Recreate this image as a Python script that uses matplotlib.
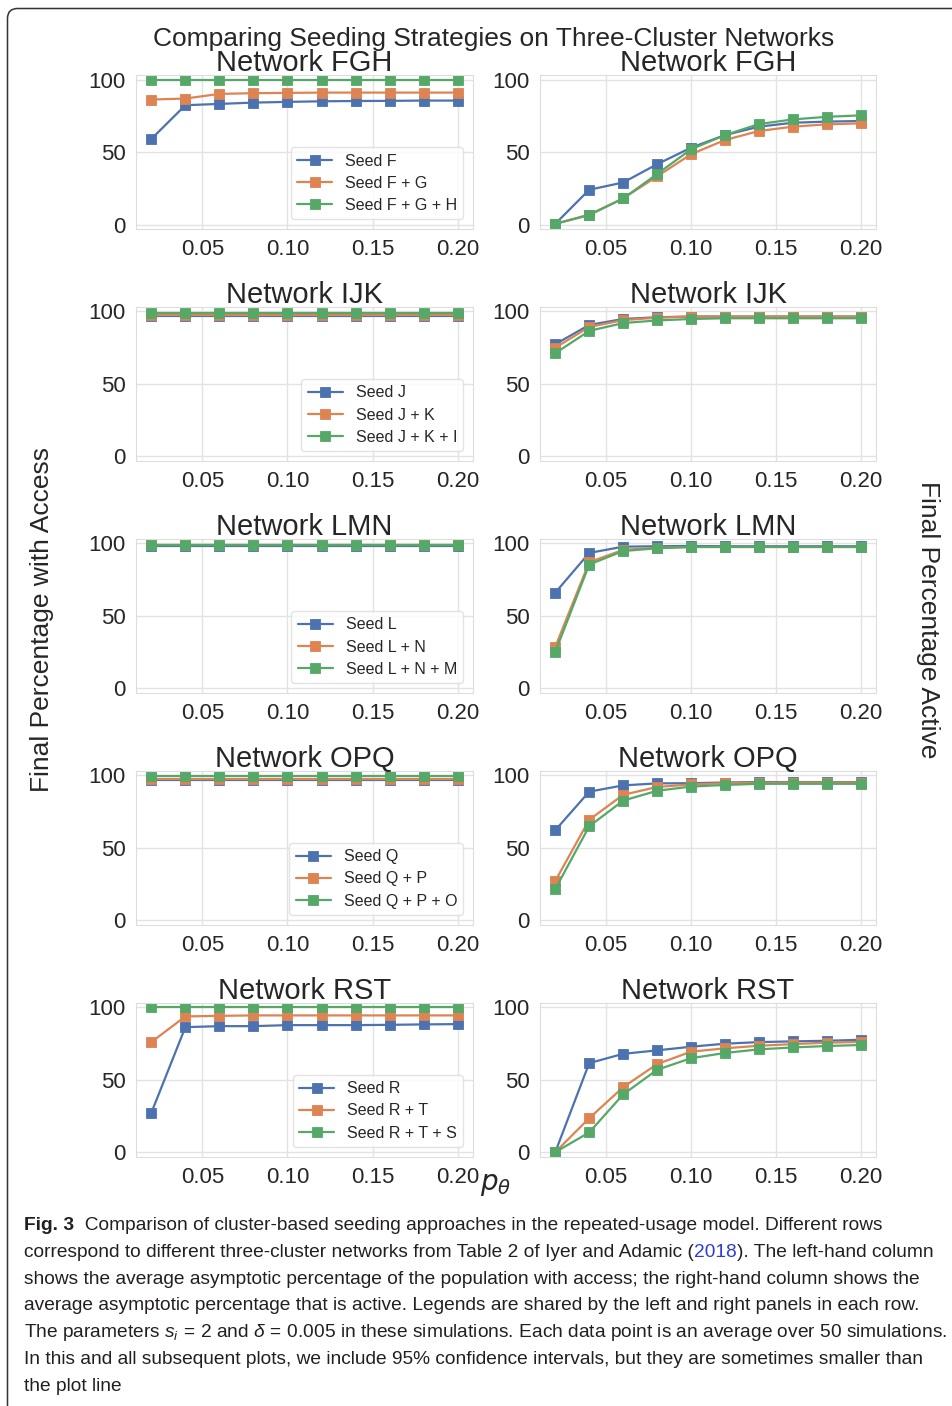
import matplotlib
matplotlib.use('Agg')
import matplotlib.pyplot as plt
import seaborn as sns
from matplotlib.patches import FancyBboxPatch
from matplotlib.transforms import IdentityTransform

sns.set_style('whitegrid')
plt.rcParams['font.family'] = ['Liberation Sans', 'DejaVu Sans']
plt.rcParams['mathtext.fontset'] = 'dejavusans'
# caption maths is set in the caption face
plt.rcParams['mathtext.rm'] = 'Liberation Sans'
plt.rcParams['mathtext.it'] = 'Liberation Sans:italic'
plt.rcParams['mathtext.bf'] = 'Liberation Sans:bold'

# seeding probability p0
p0 = [0.02, 0.04, 0.06, 0.08, 0.10, 0.12, 0.14, 0.16, 0.18, 0.20]

networks = ['FGH', 'IJK', 'LMN', 'OPQ', 'RST']
seed_labels = [
    ['Seed F', 'Seed F + G', 'Seed F + G + H'],
    ['Seed J', 'Seed J + K', 'Seed J + K + I'],
    ['Seed L', 'Seed L + N', 'Seed L + N + M'],
    ['Seed Q', 'Seed Q + P', 'Seed Q + P + O'],
    ['Seed R', 'Seed R + T', 'Seed R + T + S'],
]

# final percentage with access (one list per seeding strategy)
fgh_access = [
    [59.0, 82.3, 83.2, 84.1, 84.6, 85.0, 85.2, 85.3, 85.5, 85.5],
    [86.2, 86.9, 90.1, 90.6, 90.8, 91.0, 91.0, 91.0, 91.0, 91.0],
    [100, 100, 100, 100, 100, 100, 100, 100, 100, 100],
]
ijk_access = [
    [97.0, 97.0, 97.0, 97.0, 97.0, 97.0, 97.0, 97.0, 97.0, 97.0],
    [97.5, 97.5, 97.5, 97.5, 97.5, 97.5, 97.5, 97.5, 97.5, 97.5],
    [99.0, 99.0, 99.0, 99.0, 99.0, 99.0, 99.0, 99.0, 99.0, 99.0],
]
lmn_access = [
    [98.5, 98.5, 98.5, 98.5, 98.5, 98.5, 98.5, 98.5, 98.5, 98.5],
    [99.0, 99.0, 99.0, 99.0, 99.0, 99.0, 99.0, 99.0, 99.0, 99.0],
    [99.0, 99.0, 99.0, 99.0, 99.0, 99.0, 99.0, 99.0, 99.0, 99.0],
]
opq_access = [
    [96.5, 96.5, 96.5, 96.5, 96.5, 96.5, 96.5, 96.5, 96.5, 96.5],
    [97.5, 97.5, 97.5, 97.5, 97.5, 97.5, 97.5, 97.5, 97.5, 97.5],
    [99.5, 99.5, 99.5, 99.5, 99.5, 99.5, 99.5, 99.5, 99.5, 99.5],
]
rst_access = [
    [27.1, 86.2, 86.9, 86.9, 87.6, 87.6, 87.6, 87.8, 88.1, 88.3],
    [75.9, 93.6, 94.0, 94.3, 94.3, 94.3, 94.3, 94.3, 94.3, 94.3],
    [100, 100, 100, 100, 100, 100, 100, 100, 100, 100],
]

# final percentage active
fgh_active = [
    [0.5, 24.0, 29.0, 41.6, 53.0, 61.7, 67.5, 70.2, 71.0, 71.4],
    [0.5, 6.9, 18.0, 33.2, 48.5, 58.3, 64.5, 67.5, 69.1, 69.8],
    [0.5, 6.5, 18.0, 34.8, 51.9, 61.7, 69.3, 72.5, 74.3, 75.3],
]
ijk_active = [
    [77.4, 90.7, 94.8, 96.0, 96.5, 96.5, 96.5, 96.5, 96.5, 96.5],
    [75.0, 89.3, 94.0, 95.7, 96.5, 96.5, 96.5, 96.5, 96.5, 96.5],
    [71.2, 86.6, 92.0, 93.8, 94.8, 95.3, 95.3, 95.3, 95.3, 95.3],
]
lmn_active = [
    [66.0, 93.4, 97.7, 98.0, 98.2, 98.0, 98.0, 98.0, 98.0, 98.0],
    [28.6, 87.0, 95.5, 97.0, 97.5, 97.5, 97.5, 97.5, 97.5, 97.5],
    [25.1, 85.4, 94.7, 96.6, 97.5, 97.5, 97.5, 97.5, 97.5, 97.5],
]
opq_active = [
    [62.1, 88.7, 93.0, 94.4, 94.5, 95.0, 95.3, 95.3, 95.3, 95.3],
    [27.1, 69.3, 86.5, 91.9, 93.7, 94.5, 94.8, 95.0, 95.0, 95.0],
    [21.5, 64.8, 82.5, 89.3, 92.2, 93.3, 94.1, 94.1, 94.1, 94.1],
]
rst_active = [
    [0.0, 61.4, 67.8, 70.2, 72.7, 74.8, 75.9, 76.4, 76.8, 77.5],
    [0.0, 23.4, 44.8, 60.7, 69.3, 71.6, 73.4, 74.5, 75.5, 76.0],
    [0.0, 13.6, 39.8, 56.8, 64.8, 68.4, 70.9, 72.2, 73.2, 73.9],
]

access = [fgh_access, ijk_access, lmn_access, opq_access, rst_access]
active = [fgh_active, ijk_active, lmn_active, opq_active, rst_active]

colors = ['#4C72B0', '#DD8452', '#55A868']
text_color = '#262626'

W, H = 952, 1406
fig = plt.figure(figsize=(W / 100, H / 100), dpi=100)


def px_axes(left, top, width, height):
    return fig.add_axes([left / W, 1 - (top + height) / H, width / W, height / H])


def style_axes(ax, title):
    ax.set_xlim(0.011, 0.209)
    ax.set_ylim(-3, 103)
    ax.set_xticks([0.05, 0.10, 0.15, 0.20])
    ax.set_xticklabels(['0.05', '0.10', '0.15', '0.20'])
    ax.set_yticks([0, 50, 100])
    ax.tick_params(labelsize=16, colors=text_color, pad=4)
    ax.set_title('Network ' + title, fontsize=21, color=text_color, pad=3)
    for sp in ax.spines.values():
        sp.set_color('#dddddd')
    ax.grid(color='#e3e3e3', linewidth=1)


row_top = 75.2
row_step = 231.9
ax_h = 153.7
for i, net in enumerate(networks):
    top = row_top + i * row_step
    ax_l = px_axes(136, top, 337, ax_h)
    ax_r = px_axes(540, top, 336, ax_h)
    for k in range(3):
        ax_l.plot(p0, access[i][k], marker='s', color=colors[k], lw=1.6,
                  ms=7.5, mew=0.6, mec=colors[k], label=seed_labels[i][k])
        ax_r.plot(p0, active[i][k], marker='s', color=colors[k], lw=1.6,
                  ms=7.5, mew=0.6, mec=colors[k])
    style_axes(ax_l, net)
    style_axes(ax_r, net)
    leg = ax_l.legend(loc='lower right', fontsize=11.5, frameon=True,
                      borderaxespad=0.6, handlelength=2.2, labelspacing=0.45)
    leg.get_frame().set_edgecolor('#dddddd')
    for t in leg.get_texts():
        t.set_color(text_color)

fig.text(494 / W, 1 - 46 / H, 'Comparing Seeding Strategies on Three-Cluster Networks',
         ha='center', va='baseline', fontsize=19, color=text_color)
fig.text(42 / W, 1 - 620 / H, 'Final Percentage with Access', rotation=90,
         ha='center', va='center', fontsize=19, color=text_color)
fig.text(928 / W, 1 - 620 / H, 'Final Percentage Active', rotation=270,
         ha='center', va='center', fontsize=19, color=text_color)
fig.text(480 / W, 1 - 1190 / H, r'$p_\theta$', ha='left', va='baseline',
         fontsize=20, color=text_color)

# caption below the panels
cap_font = ['Liberation Sans', 'DejaVu Sans']
cap_size = 13.8
cap_color = '#231f20'
link_color = '#2e3cd6'
caption_runs = [
    [('Fig. 3', {'weight': 'bold'}), ('  Comparison of cluster-based seeding approaches in the '
                                      'repeated-usage model. Different rows', {})],
    [('correspond to different three-cluster networks from Table 2 of Iyer and Adamic (', {}),
     ('2018', {'color': link_color}), ('). The left-hand column', {})],
    [('shows the average asymptotic percentage of the population with access; the right-hand '
      'column shows the', {})],
    [('average asymptotic percentage that is active. Legends are shared by the left and right '
      'panels in each row.', {})],
    [(r'The parameters $s_i\,=\,2$ and $\delta\,=\,0.005$ in these simulations. Each data point '
      r'is an average over 50 simulations.', {})],
    [('In this and all subsequent plots, we include 95% confidence intervals, but they are '
      'sometimes smaller than', {})],
    [('the plot line', {})],
]

renderer = fig.canvas.get_renderer()
for j, runs in enumerate(caption_runs):
    x = 24
    y = 1230 + j * 26.8
    for s, kw in runs:
        opts = dict(family=cap_font, fontsize=cap_size, color=cap_color,
                    math_fontfamily='custom')
        opts.update(kw)
        t = fig.text(x / W, 1 - y / H, s, ha='left', va='baseline', **opts)
        x += t.get_window_extent(renderer).width

# rounded frame around the figure
frame = FancyBboxPatch((7.5, -60), 1100, H - 8.5 + 60,
                       boxstyle='round,pad=0,rounding_size=10',
                       transform=IdentityTransform(), fill=False,
                       edgecolor='#333333', linewidth=1.1)
fig.add_artist(frame)

fig.savefig('out.png', dpi=100)
